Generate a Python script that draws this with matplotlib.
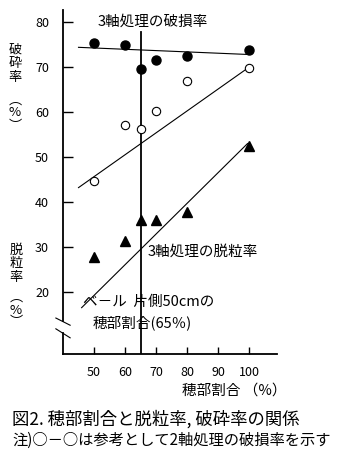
import matplotlib
matplotlib.use("Agg")
import matplotlib.pyplot as plt

plt.rcParams['font.family'] = ['Noto Sans CJK JP', 'DejaVu Sans']

# 3軸処理の破損率 (●)
x_break3 = [50, 60, 65, 70, 80, 100]
y_break3 = [75.4, 75.0, 69.6, 71.6, 72.4, 73.8]
# 2軸処理の破損率 (○)
x_break2 = [50, 60, 65, 70, 80, 100]
y_break2 = [44.7, 57.1, 56.2, 60.2, 67.0, 69.8]
# 3軸処理の脱粒率 (▲)
x_shed3 = [50, 60, 65, 70, 80, 100]
y_shed3 = [27.7, 31.4, 36.0, 36.0, 37.8, 52.4]

# 回帰線の端点
line_break3_x = [45, 100]
line_break3_y = [74.4, 72.8]
line_break2_x = [45, 99]
line_break2_y = [43.2, 69.5]
line_shed3_x = [46, 99.5]
line_shed3_y = [16.5, 53.0]

bale_ratio = 65
xticks = [50, 60, 70, 80, 90, 100]
yticks = [20, 30, 40, 50, 60, 70, 80]

fig = plt.figure(figsize=(3.39, 4.57), dpi=100)
ax = fig.add_axes([63 / 339, 1 - 354 / 457, 214 / 339, 344 / 457])
ax.set_xlim(40, 109)
ax.set_ylim(6.2, 82.7)

ax.plot(line_break3_x, line_break3_y, color='black', lw=0.8)
ax.plot(line_break2_x, line_break2_y, color='black', lw=0.8)
ax.plot(line_shed3_x, line_shed3_y, color='black', lw=0.8)
ax.plot([bale_ratio, bale_ratio], [77.8, 6.2], color='black', lw=1.3)

ax.plot(x_break3, y_break3, 'o', color='black', ms=6.5)
ax.plot(x_break2, y_break2, 'o', mfc='white', mec='black', mew=0.8, ms=6)
ax.plot(x_shed3, y_shed3, '^', color='black', ms=7)

for side in ['top', 'right', 'left']:
    ax.spines[side].set_visible(False)
ax.spines['bottom'].set_linewidth(1.3)

# 縦軸（途中を省略）
ax.plot([40, 40], [82.7, 13.6], color='black', lw=1.3, clip_on=False)
ax.plot([40, 40], [10.8, 6.2], color='black', lw=1.3, clip_on=False)
ax.plot([37.7, 42.3], [14.2, 12.6], color='black', lw=0.8, clip_on=False)
ax.plot([37.7, 42.3], [11.8, 9.8], color='black', lw=0.8, clip_on=False)

ax.set_xticks(xticks)
ax.set_yticks(yticks)
ax.tick_params(axis='y', direction='in', length=7, width=1, pad=10, labelsize=9)
ax.tick_params(axis='x', direction='in', length=5, width=1, pad=9, labelsize=9)

ax.text(51.0, 80.0, '3軸処理の破損率', fontsize=10.5, ha='left', va='center')
ax.text(67.4, 28.9, '3軸処理の脱粒率', fontsize=10.5, ha='left', va='center')
ax.text(46.5, 17.8, 'ベ－ル  片側50cmの', fontsize=10.5, ha='left', va='center')
ax.text(49.4, 13.1, '穂部割合(65％)', fontsize=10.5, ha='left', va='center')


def vlabel(chars, x, y0, paren_y):
    for i, c in enumerate(chars):
        fig.text(x / 339, 1 - (y0 + 14 * i) / 457, c, fontsize=9.5,
                 ha='center', va='center')
    # 縦書きの括弧
    fig.text(x / 339, 1 - (paren_y - 13) / 457, '︵', fontsize=9.5,
             ha='center', va='center')
    fig.text(x / 339, 1 - paren_y / 457, '%', fontsize=9.5,
             ha='center', va='center')
    fig.text(x / 339, 1 - (paren_y + 13) / 457, '︶', fontsize=9.5,
             ha='center', va='center')


vlabel('破砕率', 15, 50, 113)
vlabel('脱粒率', 16, 250, 310)

fig.text(234 / 339, 1 - 391 / 457, '穂部割合 （%）', fontsize=10.5,
         ha='center', va='center')
fig.text(12 / 339, 1 - 419 / 457, '図2. 穂部割合と脱粒率, 破砕率の関係',
         fontsize=12.5, ha='left', va='center')
fig.text(12 / 339, 1 - 440 / 457, '注)○－○は参考として2軸処理の破損率を示す',
         fontsize=11, ha='left', va='center')

fig.savefig('out.png', dpi=100)
